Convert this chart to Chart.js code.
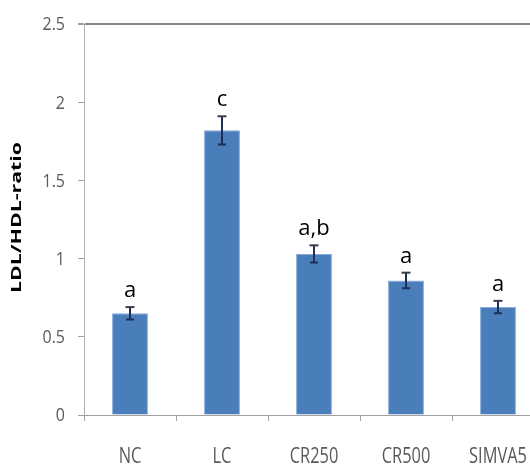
<!DOCTYPE html>
<html>
<head>
<meta charset="utf-8">
<script src="https://cdn.jsdelivr.net/npm/chart.js@4"></script>
<style>
  html, body { margin: 0; padding: 0; background: #fff; overflow: hidden; }
  #wrap { width: 560px; height: 469px; position: relative; }
</style>
</head>
<body>
<div id="wrap"><canvas id="c"></canvas></div>
<script>
// LDL/HDL ratio per treatment group, mean ± error, with significance letters
const groups = ['NC', 'LC', 'CR250', 'CR500', 'SIMVA5'];
const ratioMeans = [0.65, 1.82, 1.03, 0.86, 0.69];
const ratioErrors = [0.04, 0.09, 0.055, 0.05, 0.04];
const sigLetters = ['a', 'c', 'a,b', 'a', 'a'];
const yTicks = [0, 0.5, 1, 1.5, 2, 2.5];
const yTitle = 'LDL/HDL-ratio';

const labelFamily = '"Open Sans", sans-serif';

// Draws text squeezed horizontally (narrow, tall glyphs)
function narrowText(ctx, text, x, y, size, sx, align, weight) {
  ctx.save();
  ctx.translate(x, y);
  ctx.scale(sx, 1);
  ctx.font = (weight || 'normal') + ' ' + size + 'px ' + labelFamily;
  ctx.textAlign = align;
  ctx.textBaseline = 'middle';
  ctx.fillText(text, 0, 0);
  ctx.restore();
}

// Axis labels and the rotated y title, placed from the scales
const axisTextPlugin = {
  id: 'axisText',
  afterDraw(chart) {
    const ctx = chart.ctx;
    const xs = chart.scales.x, ys = chart.scales.y;
    ctx.save();
    ctx.fillStyle = '#595959';
    xs.ticks.forEach((t, i) => {
      narrowText(ctx, xs.getLabelForValue(t.value), xs.getPixelForTick(i), xs.top + 42, 21, 0.78, 'center');
    });
    ys.ticks.forEach((t, i) => {
      narrowText(ctx, String(t.value), ys.right - 19, ys.getPixelForTick(i) + 1, 19, 0.84, 'right');
    });
    // rotated title, stretched along its length
    const area = chart.chartArea;
    ctx.translate(17, (area.top + area.bottom) / 2 - 2);
    ctx.rotate(-Math.PI / 2);
    ctx.scale(1.42, 1);
    ctx.fillStyle = '#000';
    ctx.font = 'bold 15px ' + labelFamily;
    ctx.textAlign = 'center';
    ctx.textBaseline = 'middle';
    ctx.fillText(yTitle, 0, 0);
    ctx.restore();
  }
};

// error bars with caps, plus the letter annotation above each bar
const errorBarPlugin = {
  id: 'errorBars',
  afterDatasetsDraw(chart) {
    const ctx = chart.ctx;
    const meta = chart.getDatasetMeta(0);
    const y = chart.scales.y;
    ctx.save();
    meta.data.forEach((bar, i) => {
      const x = bar.x;
      const top = y.getPixelForValue(ratioMeans[i] + ratioErrors[i]);
      const bot = y.getPixelForValue(ratioMeans[i] - ratioErrors[i]);
      ctx.strokeStyle = '#1c2f57';
      ctx.lineWidth = 2;
      ctx.beginPath();
      ctx.moveTo(x, top); ctx.lineTo(x, bot);
      ctx.moveTo(x - 4, bot); ctx.lineTo(x + 4, bot);
      ctx.stroke();
      ctx.strokeStyle = '#3d3d46';
      ctx.beginPath();
      ctx.moveTo(x - 4.5, top); ctx.lineTo(x + 4.5, top);
      ctx.stroke();
      ctx.fillStyle = '#000';
      ctx.font = '22px ' + labelFamily;
      ctx.textAlign = 'center';
      ctx.textBaseline = 'alphabetic';
      ctx.fillText(sigLetters[i], x, top - 10);
    });
    ctx.restore();
  }
};

new Chart(document.getElementById('c'), {
  type: 'bar',
  data: {
    labels: groups,
    datasets: [{
      data: ratioMeans,
      backgroundColor: '#4A7EBB',
      borderColor: '#86aadb',
      borderWidth: 1,
      categoryPercentage: 1,
      barPercentage: 0.39
    }]
  },
  options: {
    responsive: true,
    maintainAspectRatio: false,
    animation: false,
    layout: { padding: { left: 0, right: 16, top: 24, bottom: 0 } },
    plugins: { legend: { display: false }, tooltip: { enabled: false } },
    scales: {
      x: {
        grid: { drawOnChartArea: false, drawTicks: true, tickLength: 6, tickColor: '#a0a0a0' },
        border: { display: true, color: '#a0a0a0', width: 1 },
        ticks: { color: 'rgba(0,0,0,0)', font: { size: 17 }, padding: 22, maxRotation: 0 },
        afterFit(scale) { scale.height = 54; }
      },
      y: {
        min: 0, max: 2.5,
        afterBuildTicks(scale) { scale.ticks = yTicks.map(v => ({ value: v })); },
        grid: {
          drawTicks: true, tickLength: 6,
          tickColor: '#a0a0a0',
          color: ctx => (ctx.tick && ctx.tick.value === 2.5) ? '#8a8a8a' : 'rgba(0,0,0,0)',
          lineWidth: ctx => (ctx.tick && ctx.tick.value === 2.5) ? 2 : 1
        },
        border: { display: true, color: '#b0b0b0', width: 1 },
        ticks: { color: 'rgba(0,0,0,0)', font: { size: 17 }, padding: 12 },
        afterFit(scale) { scale.width = 84; }
      }
    }
  },
  plugins: [errorBarPlugin, axisTextPlugin]
});
</script>
</body>
</html>
